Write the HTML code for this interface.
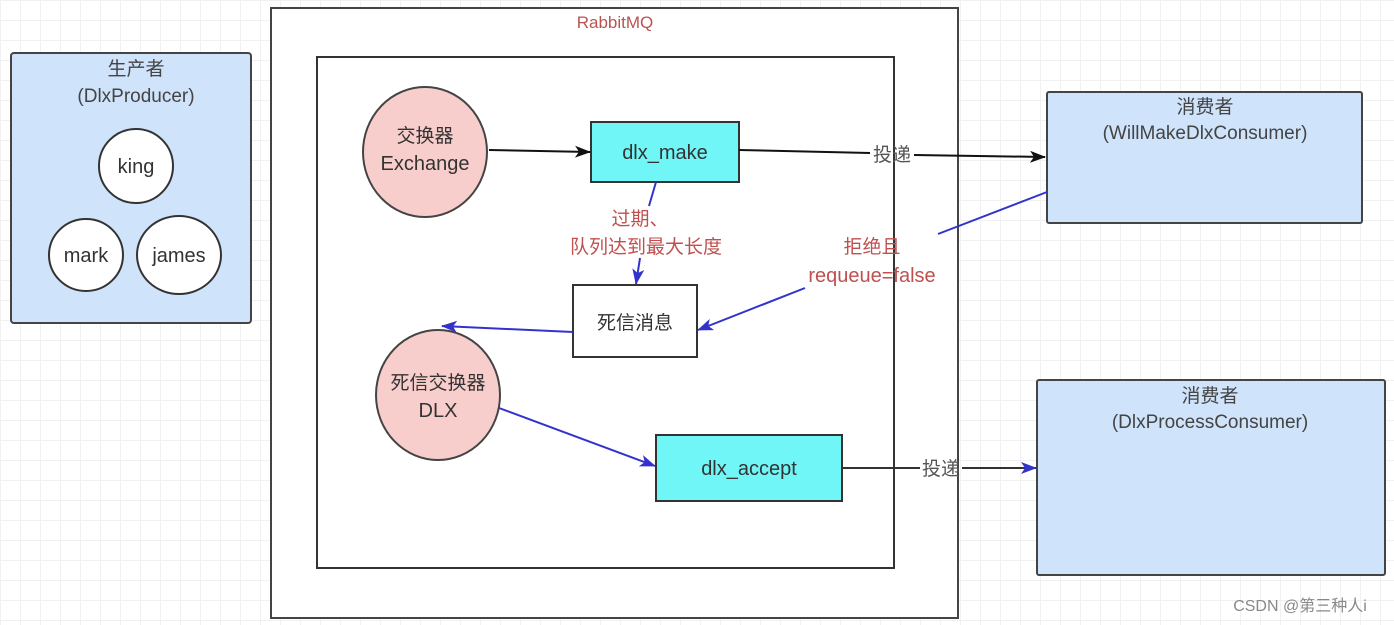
<!DOCTYPE html>
<html><head><meta charset="utf-8"><style>
html,body{margin:0;padding:0;background:#fff;}
body{width:1394px;height:625px;overflow:hidden;
background-image:linear-gradient(#f1f1f1 1px,transparent 1px),linear-gradient(90deg,#f1f1f1 1px,transparent 1px);background-size:20px 20px;}
svg{position:absolute;left:0;top:0;}
text{font-family:"Liberation Sans","Noto Sans CJK SC",sans-serif;}
</style></head><body>
<svg width="1394" height="625" viewBox="0 0 1394 625">
<defs>
<marker id="ab" markerWidth="16" markerHeight="12" refX="15" refY="6" orient="auto" markerUnits="userSpaceOnUse"><path d="M0,0 L16,6 L0,12 L4,6 z" fill="#111"/></marker>
<marker id="au" markerWidth="16" markerHeight="12" refX="15" refY="6" orient="auto" markerUnits="userSpaceOnUse"><path d="M0,0 L16,6 L0,12 L4,6 z" fill="#3333cc"/></marker>
</defs>
<!-- producer -->
<rect x="11" y="53" width="240" height="270" rx="3" fill="#cfe3fb" stroke="#444" stroke-width="2"/>
<text x="136" y="75" font-size="19" fill="#444" text-anchor="middle">生产者</text>
<text x="136" y="102" font-size="19" fill="#444" text-anchor="middle">(DlxProducer)</text>
<circle cx="136" cy="166" r="37" fill="#fff" stroke="#333" stroke-width="2"/>
<text x="136" y="173" font-size="20" fill="#333" text-anchor="middle">king</text>
<ellipse cx="86" cy="255" rx="37" ry="36" fill="#fff" stroke="#333" stroke-width="2"/>
<text x="86" y="262" font-size="20" fill="#333" text-anchor="middle">mark</text>
<ellipse cx="179" cy="255" rx="42" ry="39" fill="#fff" stroke="#333" stroke-width="2"/>
<text x="179" y="262" font-size="20" fill="#333" text-anchor="middle">james</text>
<!-- rabbitmq -->
<rect x="271" y="8" width="687" height="610" fill="#fff" stroke="#444" stroke-width="2"/>
<text x="615" y="28" font-size="17" fill="#b85450" text-anchor="middle">RabbitMQ</text>
<rect x="317" y="57" width="577" height="511" fill="#fff" stroke="#333" stroke-width="2"/>
<ellipse cx="425" cy="152" rx="62" ry="65" fill="#f8cecc" stroke="#444" stroke-width="2"/>
<text x="425" y="142" font-size="19" fill="#333" text-anchor="middle">交换器</text>
<text x="425" y="170" font-size="20" fill="#333" text-anchor="middle">Exchange</text>
<rect x="591" y="122" width="148" height="60" fill="#70f6f6" stroke="#333" stroke-width="2"/>
<text x="665" y="159" font-size="20" fill="#333" text-anchor="middle">dlx_make</text>
<line x1="489" y1="150" x2="590" y2="152" stroke="#111" stroke-width="2" marker-end="url(#ab)"/>
<!-- consumer1 -->
<rect x="1047" y="92" width="315" height="131" rx="2" fill="#cfe3fb" stroke="#444" stroke-width="2"/>
<text x="1205" y="113" font-size="19" fill="#444" text-anchor="middle">消费者</text>
<text x="1205" y="139" font-size="19" fill="#444" text-anchor="middle">(WillMakeDlxConsumer)</text>
<line x1="739" y1="150" x2="870" y2="153" stroke="#111" stroke-width="2"/>
<line x1="914" y1="155" x2="1045" y2="157" stroke="#111" stroke-width="2" marker-end="url(#ab)"/>
<text x="892" y="161" font-size="19" fill="#555" text-anchor="middle">投递</text>
<!-- expire -->
<line x1="656" y1="182" x2="649" y2="206" stroke="#3333cc" stroke-width="2"/>
<line x1="640" y1="258" x2="636" y2="284" stroke="#3333cc" stroke-width="2" marker-end="url(#au)"/>
<text x="640" y="225" font-size="19" fill="#c05050" text-anchor="middle">过期、</text>
<text x="646" y="253" font-size="19" fill="#c05050" text-anchor="middle">队列达到最大长度</text>
<rect x="573" y="285" width="124" height="72" fill="#fff" stroke="#333" stroke-width="2"/>
<text x="635" y="329" font-size="19" fill="#333" text-anchor="middle">死信消息</text>
<!-- reject -->
<line x1="1047" y1="192" x2="938" y2="234" stroke="#3333cc" stroke-width="2"/>
<line x1="805" y1="288" x2="698" y2="330" stroke="#3333cc" stroke-width="2" marker-end="url(#au)"/>
<text x="872" y="253" font-size="19" fill="#c05050" text-anchor="middle">拒绝且</text>
<text x="872" y="282" font-size="20" fill="#c05050" text-anchor="middle">requeue=false</text>
<!-- dlx -->
<line x1="573" y1="332" x2="442" y2="326" stroke="#3333cc" stroke-width="2" marker-end="url(#au)"/>
<ellipse cx="438" cy="395" rx="62" ry="65" fill="#f8cecc" stroke="#444" stroke-width="2"/>
<text x="438" y="389" font-size="19" fill="#333" text-anchor="middle">死信交换器</text>
<text x="438" y="417" font-size="20" fill="#333" text-anchor="middle">DLX</text>
<line x1="499" y1="408" x2="655" y2="466" stroke="#3333cc" stroke-width="2" marker-end="url(#au)"/>
<rect x="656" y="435" width="186" height="66" fill="#70f6f6" stroke="#333" stroke-width="2"/>
<text x="749" y="475" font-size="20" fill="#333" text-anchor="middle">dlx_accept</text>
<!-- consumer2 -->
<rect x="1037" y="380" width="348" height="195" rx="2" fill="#cfe3fb" stroke="#444" stroke-width="2"/>
<text x="1210" y="402" font-size="19" fill="#444" text-anchor="middle">消费者</text>
<text x="1210" y="428" font-size="19" fill="#444" text-anchor="middle">(DlxProcessConsumer)</text>
<line x1="842" y1="468" x2="920" y2="468" stroke="#333" stroke-width="2"/>
<line x1="962" y1="468" x2="1036" y2="468" stroke="#333" stroke-width="2" marker-end="url(#au)"/>
<text x="941" y="475" font-size="19" fill="#555" text-anchor="middle">投递</text>
<text x="1300" y="611" font-size="16" fill="#888" text-anchor="middle">CSDN @第三种人i</text>
</svg>
</body></html>
